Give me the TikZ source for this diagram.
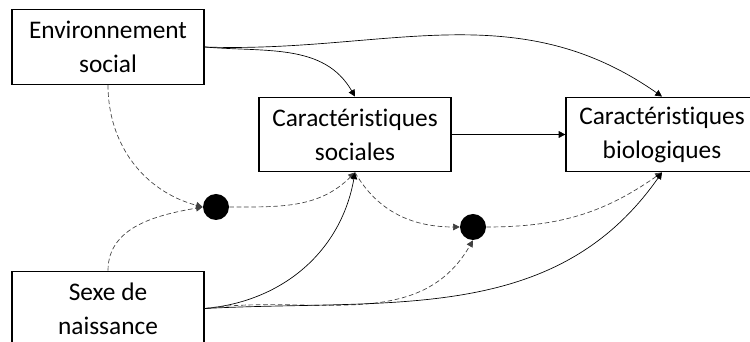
\documentclass[tikz,border=0pt]{standalone}
\usepackage{fontspec}
\setmainfont{Carlito}[Ligatures=NoCommon]
\usetikzlibrary{arrows.meta}
\begin{document}
\begin{tikzpicture}[x=0.75pt,y=0.75pt,
  box/.style={draw, line width=0.9pt, minimum width=144pt, minimum height=56pt, inner sep=0pt, align=center, font=\fontsize{19}{25.5}\selectfont},
  dot/.style={circle, fill=black, minimum size=19.5pt, inner sep=0pt},
  link/.style={line width=0.5pt, -{Triangle[length=5pt,width=5pt]}},
  dlink/.style={link, black!75, dash pattern=on 3.5pt off 2pt}]

\useasboundingbox (0,0) rectangle (750,342);

\node[box] (env) at (108, 295) {Environnement\\social};
\node[box] (soc) at (355, 207.5) {Caractéristiques\\sociales};
\node[box] (bio) at (662, 207.5) {Caractéristiques\\biologiques};
\node[box] (sexe) at (108, 33.5) {Sexe de\\naissance};

\node[dot] (m1) at (216, 135) {};
\node[dot] (m2) at (473, 115) {};

\draw[link] (env.east) to[out=-5, in=120] (soc.north);
\draw[link] (env.east) to[out=-2, in=145] (bio.north);
\draw[link] (soc.east) -- (bio.west);

\draw[dlink] (env.south) to[out=-90, in=165] (m1.west);
\draw[dlink] (sexe.north) to[out=90, in=190] (m1.west);
\draw[dlink] (m1.east) to[out=0, in=-135] (soc.south);
\draw[link] (sexe.east) to[out=5, in=-100] (soc.south);

\draw[dlink] (soc.south) to[out=-60, in=180] (m2.west);
\draw[dlink] (sexe.east) to[out=8, in=-120] (m2.south);
\draw[dlink] (m2.east) to[out=0, in=-145] (bio.south);
\draw[link] (sexe.east) to[out=3, in=-125] (bio.south);

\end{tikzpicture}
\end{document}
